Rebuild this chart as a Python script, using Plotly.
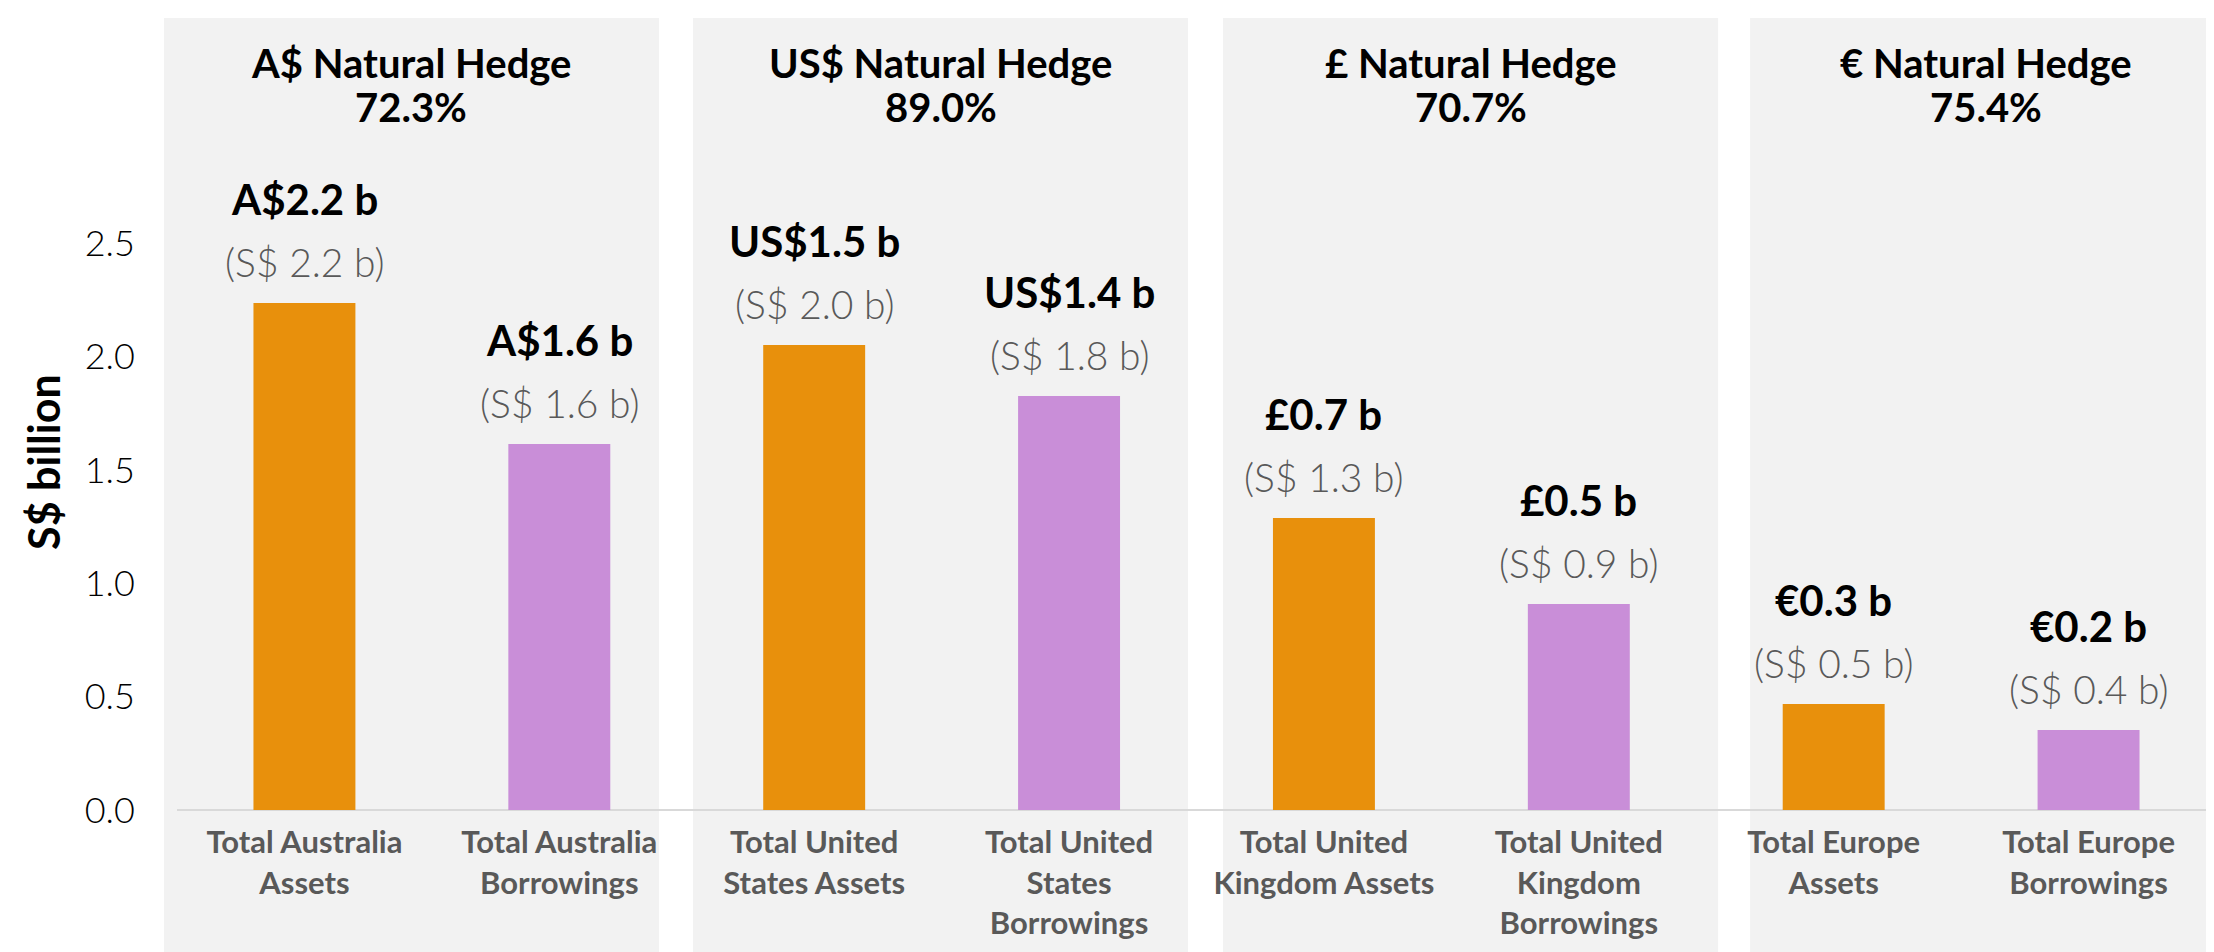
import plotly.graph_objects as go

# S$ billion values per category
categories = ['Total Australia<br>Assets', 'Total Australia<br>Borrowings',
              'Total United<br>States Assets', 'Total United<br>States<br>Borrowings',
              'Total United<br>Kingdom Assets', 'Total United<br>Kingdom<br>Borrowings',
              'Total Europe<br>Assets', 'Total Europe<br>Borrowings']
sgd_values = [2.237, 1.615, 2.051, 1.826, 1.288, 0.909, 0.468, 0.353]
local_labels = ['A$2.2 b', 'A$1.6 b', 'US$1.5 b', 'US$1.4 b', '£0.7 b', '£0.5 b', '€0.3 b', '€0.2 b']
sgd_labels = ['(S$ 2.2 b)', '(S$ 1.6 b)', '(S$ 2.0 b)', '(S$ 1.8 b)',
              '(S$ 1.3 b)', '(S$ 0.9 b)', '(S$ 0.5 b)', '(S$ 0.4 b)']
hedge_titles = ['A$ Natural Hedge', 'US$ Natural Hedge', '£ Natural Hedge', '€ Natural Hedge']
hedge_pcts = ['72.3%', '89.0%', '70.7%', '75.4%']
y_ticks = [0, 0.5, 1.0, 1.5, 2.0, 2.5]

ORANGE = '#E8900C'
PURPLE = '#C98ED8'
FONT = 'Lato'

x_pos = list(range(len(categories)))
colors = [ORANGE if i % 2 == 0 else PURPLE for i in x_pos]

fig = go.Figure()
fig.add_trace(go.Bar(x=x_pos, y=sgd_values, width=0.4, marker_color=colors,
                     marker_line_width=0, hoverinfo='skip'))

# grey panels behind each currency pair (paper coords)
panels = [(-0.0064, 0.2364), (0.2531, 0.4958), (0.5130, 0.7558), (0.7715, 1.01)]
for x0, x1 in panels:
    fig.add_shape(type='rect', xref='paper', yref='paper', x0=x0, x1=x1,
                  y0=-0.25, y1=1.1647, fillcolor='#F2F2F2', line_width=0, layer='below')

annotations = []
for (x0, x1), title, pct in zip(panels, hedge_titles, hedge_pcts):
    xc = (x0 + min(x1, 1.003)) / 2
    annotations.append(dict(x=xc, y=1.0985, xref='paper', yref='paper', text=title,
                            showarrow=False, xanchor='center', yanchor='middle',
                            font=dict(family=FONT, size=40, color='black', weight='bold')))
    annotations.append(dict(x=xc, y=1.0335, xref='paper', yref='paper', text=pct,
                            showarrow=False, xanchor='center', yanchor='middle',
                            font=dict(family=FONT, size=40, color='black', weight='bold')))

for x, v, lab, slab in zip(x_pos, sgd_values, local_labels, sgd_labels):
    annotations.append(dict(x=x, y=v, text=slab, showarrow=False, xanchor='center',
                            yanchor='middle', yshift=41,
                            font=dict(family=FONT, size=39, color='#595959', weight=300)))
    annotations.append(dict(x=x, y=v, text=lab, showarrow=False, xanchor='center',
                            yanchor='middle', yshift=104,
                            font=dict(family=FONT, size=42, color='black', weight='bold')))

# y axis title as rotated annotation
annotations.append(dict(x=-0.0652, y=0.512, xref='paper', yref='paper', text='S$ billion',
                        textangle=-90, showarrow=False, xanchor='center', yanchor='middle',
                        borderpad=0,
                        font=dict(family=FONT, size=43, color='black', weight='bold')))

fig.update_layout(
    width=2214, height=952,
    margin=dict(l=169, r=6, t=122, b=150),
    paper_bgcolor='white', plot_bgcolor='rgba(0,0,0,0)',
    showlegend=False, bargap=0.6,
    annotations=annotations,
    xaxis=dict(range=[-0.5, 7.5], tickvals=x_pos, ticktext=categories,
               tickfont=dict(family=FONT, size=31, color='#595959', weight='bold'),
               ticks='outside', ticklen=5, tickcolor='rgba(0,0,0,0)',
               showgrid=False, zeroline=False, showline=False, fixedrange=True),
    yaxis=dict(range=[0, 3], tickvals=y_ticks, tickformat='.1f',
               tickfont=dict(family=FONT, size=36, color='black', weight=300),
               ticks='outside', ticklen=34, tickcolor='rgba(0,0,0,0)',
               showgrid=False, zeroline=True, zerolinecolor='#D9D9D9', zerolinewidth=2,
               showline=False, fixedrange=True),
)

fig.write_html('out.html')
